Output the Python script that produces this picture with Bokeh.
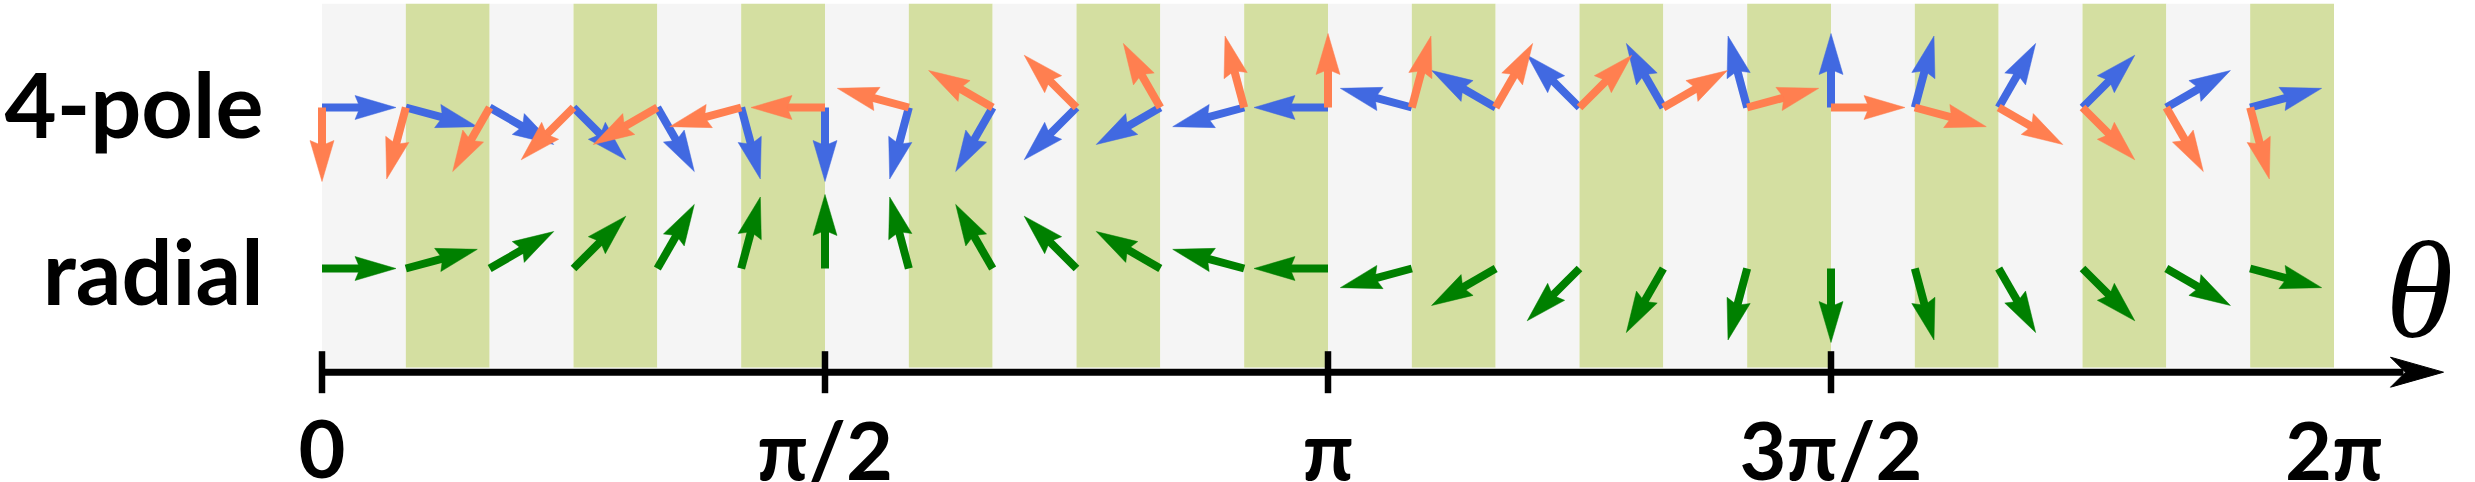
import math
from bokeh.plotting import figure
from bokeh.models import Range1d
from bokeh.core.properties import value
from bokeh.embed import file_html
from bokeh.resources import INLINE

# ---------------- data ----------------
theta_deg = [0, 15, 30, 45, 60, 75, 90, 105, 120, 135, 150, 165,
             180, 195, 210, 225, 240, 255, 270, 285, 300, 315, 330, 345]
radial_dir_deg = [0, 15, 30, 45, 60, 75, 90, 105, 120, 135, 150, 165,
                  180, 195, 210, 225, 240, 255, 270, 285, 300, 315, 330, 345]
pole_blue_dir_deg = [0, -15, -30, -45, -60, -75, -90, -105, -120, -135, -150, -165,
                     -180, -195, -210, -225, -240, -255, -270, -285, -300, -315, -330, -345]
pole_orange_dir_deg = [-90, -105, -120, -135, -150, -165, -180, -195, -210, -225, -240, -255,
                       -270, -285, -300, -315, -330, -345, -360, -375, -390, -405, -420, -435]
band_colors = ["#f5f5f5", "#d4dfa1"] * 12
tick_deg = [0, 90, 180, 270]
label_deg = [0, 90, 180, 270, 360]
tick_labels = ["0", "π/2", "π", "3π/2", "2π"]
row_labels = ["4-pole", "radial"]
axis_label = "θ"

# ---------------- layout ----------------
W, H = 2475, 482
X0 = 321.5                 # canvas px of theta = 0
S = 2012.0 / 360.0         # px per degree
ROW_Y = {"4-pole": 375.0, "radial": 214.0}
BAND_BOTTOM, BAND_TOP = 115.0, 478.7
AXIS_Y = 110.3
TICK_HALF = 21.0
AXIS_TIP = (2443 - X0) / S

p = figure(width=W, height=H, output_backend="svg", toolbar_location=None,
           x_range=Range1d(-X0 / S, (W - X0) / S), y_range=Range1d(0, H),
           min_border=0, x_axis_type=None, y_axis_type=None,
           outline_line_color=None, background_fill_color="white",
           border_fill_color="white")
p.xgrid.visible = False
p.ygrid.visible = False

# background bands
band_left = theta_deg
band_right = theta_deg[1:] + [360]
p.quad(left=band_left, right=band_right, bottom=BAND_BOTTOM, top=BAND_TOP,
       fill_color=band_colors, line_color=None)

# arrows
L, HEAD_LEN, HEAD_AX, HEAD_HW, SHAFT_W = 74.0, 41.0, 36.0, 12.0, 8.0


def arrows(xs_deg, dirs_deg, y0, color):
    sx0, sy0, sx1, sy1, hx, hy = [], [], [], [], [], []
    for t, a in zip(xs_deg, dirs_deg):
        ux, uy = math.cos(math.radians(a)), math.sin(math.radians(a))
        px, py = -uy, ux

        def pt(along, side):
            return (t + (along * ux + side * px) / S, y0 + along * uy + side * py)
        sx0.append(t)
        sy0.append(y0)
        e = pt(L - HEAD_AX + 2, 0)
        sx1.append(e[0])
        sy1.append(e[1])
        pts = [pt(L, 0), pt(L - HEAD_LEN, HEAD_HW), pt(L - HEAD_AX, 0), pt(L - HEAD_LEN, -HEAD_HW)]
        hx.append([q[0] for q in pts])
        hy.append([q[1] for q in pts])
    p.segment(x0=sx0, y0=sy0, x1=sx1, y1=sy1, line_color=color,
              line_width=SHAFT_W, line_cap="butt")
    p.patches(xs=hx, ys=hy, fill_color=color, line_color=color, line_width=0.5)


arrows(theta_deg, pole_blue_dir_deg, ROW_Y["4-pole"], "#4169e1")
arrows(theta_deg, pole_orange_dir_deg, ROW_Y["4-pole"], "#ff7f50")
arrows(theta_deg, radial_dir_deg, ROW_Y["radial"], "#008000")

# axis line with arrow head
p.segment(x0=[0], y0=[AXIS_Y], x1=[AXIS_TIP - 40 / S], y1=[AXIS_Y],
          line_color="black", line_width=7, line_cap="butt")
p.patches(xs=[[AXIS_TIP, AXIS_TIP - 53 / S, AXIS_TIP - 38 / S, AXIS_TIP - 53 / S]],
          ys=[[AXIS_Y, AXIS_Y + 15, AXIS_Y, AXIS_Y - 15]],
          fill_color="black", line_color="black", line_width=1)
p.segment(x0=tick_deg, y0=[AXIS_Y + TICK_HALF] * len(tick_deg),
          x1=tick_deg, y1=[AXIS_Y - TICK_HALF] * len(tick_deg),
          line_color="black", line_width=6.5, line_cap="butt")

# tick labels
p.text(x=label_deg, y=[34] * len(label_deg), text=tick_labels,
       text_font=value("Lato"), text_font_style="bold", text_font_size="81px",
       text_align="center", text_baseline="alphabetic", text_color="black")

# row labels
p.text(x=[(263 - X0) / S] * 2, y=[380, 213], text=row_labels,
       text_font=value("Lato"), text_font_style="bold", text_font_size="90px",
       text_align="right", text_baseline="alphabetic", text_color="black")

# theta label
p.text(x=[(2419 - X0) / S], y=[192], text=[axis_label],
       text_font=value("Liberation Serif"), text_font_style="italic",
       text_font_size="138px", text_align="center", text_baseline="alphabetic",
       text_color="black")

open("out.html", "w").write(file_html(p, INLINE))
